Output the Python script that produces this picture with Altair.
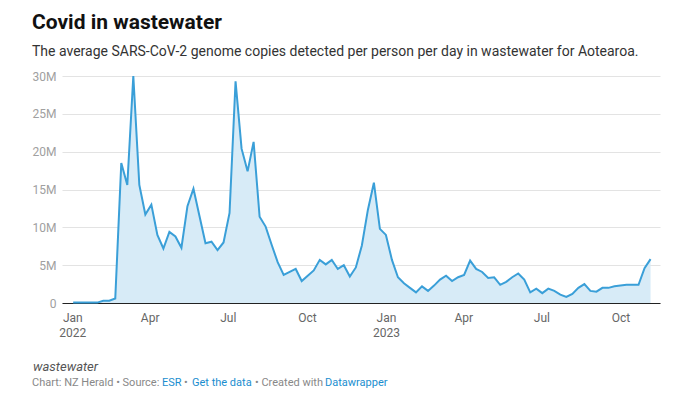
import altair as alt
import pandas as pd

title_text = "Covid in wastewater"
subtitle_text = "The average SARS-CoV-2 genome copies detected per person per day in wastewater for Aotearoa."
note_text = "wastewater"

# weekly average genome copies per person per day (millions), first week 2 Jan 2022
copies_m = [
    0.05, 0.05, 0.05, 0.05, 0.05, 0.3, 0.3, 0.6, 18.5, 15.6,
    30.0, 15.6, 11.7, 13.0, 9.0, 7.2, 9.4, 8.8, 7.3, 12.8,
    15.1, 11.5, 7.9, 8.1, 7.0, 8.0, 11.9, 29.3, 20.4, 17.4,
    21.3, 11.4, 10.1, 7.7, 5.4, 3.7, 4.1, 4.5, 2.9, 3.6,
    4.3, 5.7, 5.1, 5.7, 4.5, 5.0, 3.5, 4.7, 7.6, 12.3,
    15.9, 9.8, 9.0, 5.7, 3.4, 2.6, 2.0, 1.4, 2.2, 1.6,
    2.3, 3.1, 3.6, 2.9, 3.4, 3.7, 5.6, 4.5, 4.1, 3.3,
    3.4, 2.4, 2.8, 3.4, 3.9, 3.1, 1.4, 1.9, 1.3, 1.9,
    1.6, 1.1, 0.8, 1.2, 2.0, 2.5, 1.6, 1.5, 2.0, 2.0,
    2.2, 2.3, 2.4, 2.4, 2.4, 4.6, 5.8,
]
weeks = pd.date_range("2022-01-02", periods=len(copies_m), freq="7D")
y_ticks = [0, 5, 10, 15, 20, 25, 30]
x_ticks = [(2022, 1), (2022, 4), (2022, 7), (2022, 10), (2023, 1), (2023, 4), (2023, 7), (2023, 10)]

df = pd.DataFrame({"week": weeks, "copies": copies_m})
one = pd.DataFrame({"_": [0]})

FONT = "Roboto"
LINE = "#3a9fd8"
FILL = "#d7ebf7"
BLUE = "#1b8ecf"

x_enc = alt.X(
    "week:T",
    scale=alt.Scale(domain=[alt.DateTime(year=2021, month=12, date=20),
                            alt.DateTime(year=2023, month=11, date=16)]),
    axis=alt.Axis(
        title=None,
        values=[alt.DateTime(year=y, month=m, date=1) for y, m in x_ticks],
        labelExpr="month(datum.value) == 0 ? [timeFormat(datum.value, '%b'), timeFormat(datum.value, '%Y')] : timeFormat(datum.value, '%b')",
        grid=False, ticks=False, domain=True, domainColor="#222", domainWidth=1,
        labelColor="#666", labelFontSize=12, labelFont=FONT, labelPadding=9,
        labelLineHeight=15, labelFlush=False, labelOverlap=False,
    ),
)
y_enc = alt.Y(
    "copies:Q",
    scale=alt.Scale(domain=[0, 30], nice=False),
    axis=alt.Axis(
        title=None, values=y_ticks,
        labelExpr="datum.value == 0 ? '0' : datum.value + 'M'",
        grid=True, gridColor="#e3e3e3", gridWidth=1,
        domain=False, ticks=False, labelPadding=6, labelOverlap=False,
        labelColor="#a0a0a0", labelFontSize=12, labelFont=FONT,
    ),
)

area = alt.Chart(df).mark_area(color=FILL, opacity=1).encode(x=x_enc, y=y_enc)
line = alt.Chart(df).mark_line(color=LINE, strokeWidth=2).encode(x=x_enc, y=y_enc)


def txt(text, x, y, size, color, weight="normal", style="normal"):
    return alt.Chart(one).mark_text(
        align="left", baseline="alphabetic", font=FONT, fontSize=size,
        color=color, fontWeight=weight, fontStyle=style,
    ).encode(x=alt.value(x), y=alt.value(y), text=alt.value(text))


texts = [
    txt(title_text, -30, -47, 21, "#111", weight="bold"),
    txt(subtitle_text, -30, -20, 14, "#333"),
    txt(note_text, -29, 295, 13, "#555", style="italic"),
    txt("Chart: NZ Herald \u2022 Source:", -30, 310, 11, "#888"),
    txt("ESR", 100, 310, 11, BLUE),
    txt("\u2022", 122, 310, 11, "#888"),
    txt("Get the data", 130, 310, 11, BLUE),
    txt("\u2022 Created with", 193, 310, 11, "#888"),
    txt("Datawrapper", 263, 310, 11, BLUE),
]

chart = alt.layer(area, line, *texts).properties(
    width=598, height=227,
    padding={"left": 54, "top": 68, "right": 5, "bottom": 86},
    autosize=alt.AutoSizeParams(type="none"),
).configure(font=FONT, view=alt.ViewConfig(stroke=None))

chart.save("out.html", embed_options={"renderer": "svg", "actions": False})
